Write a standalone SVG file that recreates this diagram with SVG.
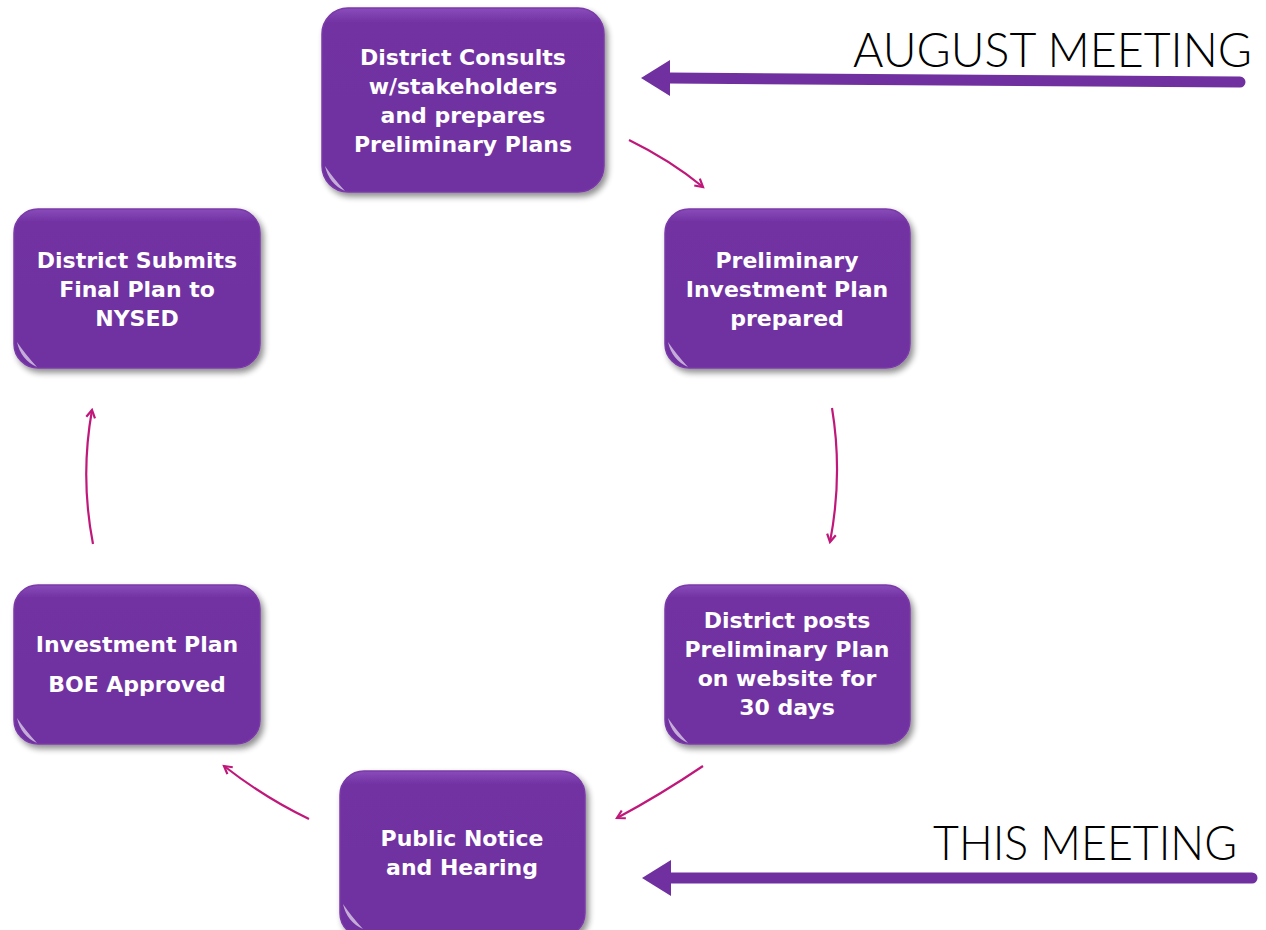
<svg xmlns="http://www.w3.org/2000/svg" width="1266" height="930" viewBox="0 0 1266 930">
<defs>
<style>
.box{fill:url(#boxg);stroke:#7a3aa8;stroke-width:1.5;filter:url(#sh)}
.lbl{font-family:"DejaVu Sans",sans-serif;font-weight:bold;font-size:22px;fill:#fff;text-anchor:middle}
.big{font-family:"Lato","Liberation Sans",sans-serif;font-weight:300;font-size:48px;fill:#000}
.con{fill:none;stroke:#c0187a;stroke-width:2.2;marker-end:url(#ah)}
.fat{fill:none;stroke:#7030a0;stroke-width:11;stroke-linecap:round}
.glint{fill:#fff;opacity:0.6}
</style>
<linearGradient id="boxg" x1="0" y1="0" x2="0" y2="1">
<stop offset="0" stop-color="#8a4cbb"/>
<stop offset="0.08" stop-color="#7232a2"/>
<stop offset="1" stop-color="#7030a0"/>
</linearGradient>
<filter id="sh" x="-10%" y="-10%" width="125%" height="130%">
<feGaussianBlur in="SourceAlpha" stdDeviation="3"/>
<feOffset dx="3" dy="4" result="b"/>
<feComponentTransfer><feFuncA type="linear" slope="0.45"/></feComponentTransfer>
<feMerge><feMergeNode/><feMergeNode in="SourceGraphic"/></feMerge>
</filter>
<marker id="ah" viewBox="0 0 10 10" refX="8" refY="5" markerWidth="5" markerHeight="5" orient="auto" markerUnits="strokeWidth">
<path d="M1,1 L8,5 L1,9" fill="none" stroke="#c0187a" stroke-width="2"/>
</marker>
</defs>
<rect width="1266" height="930" fill="#fff"/>

<g id="connectors">
<path class="con" d="M629,140 Q670,160 703,187"/>
<path class="con" d="M832,408 Q843,475 830,542"/>
<path class="con" d="M703,766 Q660,795 617,818"/>
<path class="con" d="M309,819 Q265,798 224,766"/>
<path class="con" d="M93,544 Q80,477 92,410"/>
<path class="fat" d="M1240,82 L668,78"/>
<polygon points="641,78 670,60 670,96" fill="#7030a0"/>
<path class="fat" d="M1252,878 L668,878"/>
<polygon points="642,878 671,860 671,896" fill="#7030a0"/>
</g>

<g id="node-top">
<rect class="box" x="322" y="8" width="282" height="184" rx="26"/>
<path class="glint" d="M325,166 Q329,184 345,191 Q333,178 325,166Z"/>
<text class="lbl" x="463" y="65">District Consults</text>
<text class="lbl" x="463" y="94">w/stakeholders</text>
<text class="lbl" x="463" y="123">and prepares</text>
<text class="lbl" x="463" y="152">Preliminary Plans</text>
</g>

<g id="node-right-top">
<rect class="box" x="665" y="209" width="245" height="159" rx="24"/>
<path class="glint" d="M668,342 Q672,360 688,367 Q676,354 668,342Z"/>
<text class="lbl" x="787" y="268">Preliminary</text>
<text class="lbl" x="787" y="297">Investment Plan</text>
<text class="lbl" x="787" y="326">prepared</text>
</g>

<g id="node-left-top">
<rect class="box" x="14" y="209" width="246" height="159" rx="24"/>
<path class="glint" d="M17,342 Q21,360 37,367 Q25,354 17,342Z"/>
<text class="lbl" x="137" y="268">District Submits</text>
<text class="lbl" x="137" y="297">Final Plan to</text>
<text class="lbl" x="137" y="326">NYSED</text>
</g>

<g id="node-right-bottom">
<rect class="box" x="665" y="585" width="245" height="159" rx="24"/>
<path class="glint" d="M668,718 Q672,736 688,743 Q676,730 668,718Z"/>
<text class="lbl" x="787" y="628">District posts</text>
<text class="lbl" x="787" y="657">Preliminary Plan</text>
<text class="lbl" x="787" y="686">on website for</text>
<text class="lbl" x="787" y="715">30 days</text>
</g>

<g id="node-left-bottom">
<rect class="box" x="14" y="585" width="246" height="159" rx="24"/>
<path class="glint" d="M17,718 Q21,736 37,743 Q25,730 17,718Z"/>
<text class="lbl" x="137" y="652">Investment Plan</text>
<text class="lbl" x="137" y="692">BOE Approved</text>
</g>

<g id="node-bottom">
<rect class="box" x="340" y="771" width="245" height="166" rx="24"/>
<path class="glint" d="M343,904 Q347,922 363,929 Q351,916 343,904Z"/>
<text class="lbl" x="462" y="846">Public Notice</text>
<text class="lbl" x="462" y="875">and Hearing</text>
</g>

<g id="labels">
<text class="big" x="853" y="67" textLength="399" lengthAdjust="spacingAndGlyphs">AUGUST MEETING</text>
<text class="big" x="933" y="860" textLength="304" lengthAdjust="spacingAndGlyphs">THIS MEETING</text>
</g>
</svg>
